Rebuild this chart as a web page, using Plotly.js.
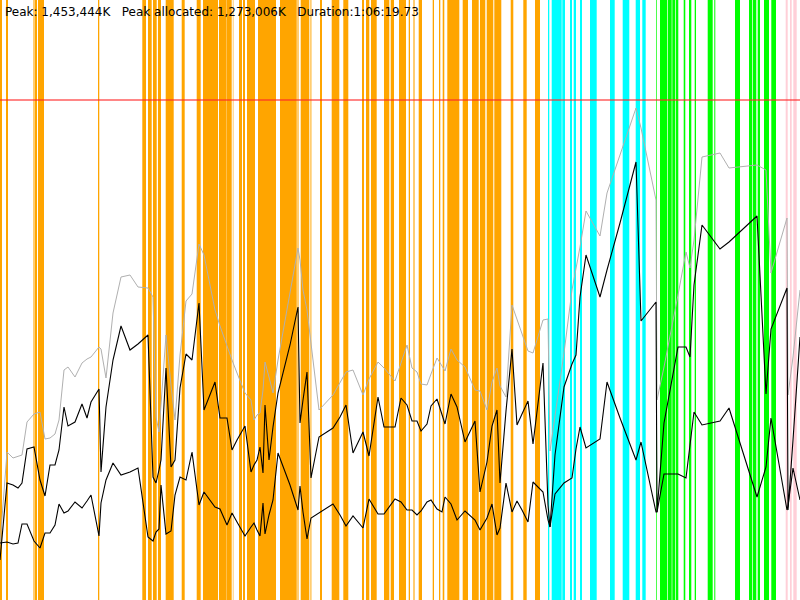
<!DOCTYPE html>
<html>
<head>
<meta charset="utf-8">
<script src="https://cdn.plot.ly/plotly-3.0.1.min.js"></script>
<style>html,body{margin:0;padding:0;background:#fff;}#chart{width:800px;height:600px;}</style>
</head>
<body>
<div id="chart"></div>
<script>
// ---- data ----
const headerText = "Peak: 1,453,444K\u00a0\u00a0\u00a0Peak allocated: 1,273,006K\u00a0\u00a0\u00a0Duration:1:06:19.73";
const limitLevel = 500;
const timeX = [0,7,13,18,22,27,34,40,45,50,55,59,64,68,75,82,87,91,99,101,106,113,121,130,138,148,153,156,159,161,166,171,175,180,186,192,199,204,215,220,227,232,237,245,251,254,257,260,263,265,269,273,278,290,298,300,303,307,311,319,333,340,346,353,363,369,378,384,395,401,407,412,417,421,427,431,437,442,445,451,457,465,475,480,487,492,497,500,506,512,517,522,528,533,541,543,548,550,555,564,572,576,580,586,600,607,620,636,641,656,657,664,678,686,690,694,702,720,729,757,766,771,787,788,793,800];
const peakSeries = [55,148,142,144,145,178,186,188,161,162,166,180,230,233,223,237,241,243,253,251,222,287,323,325,313,312,303,183,168,195,265,215,180,245,299,306,356,345,290,274,253,240,227,207,200,180,185,187,210,238,223,207,240,305,352,340,310,290,255,190,205,217,228,230,205,221,238,232,219,237,255,232,228,216,215,226,242,234,229,251,240,233,210,209,190,218,232,214,203,295,280,267,249,247,272,280,281,149,184,247,310,330,353,389,364,407,445,492,472,400,200,233,305,348,332,360,443,447,432,435,430,327,382,205,243,310];
const usedSeries = [40,117,115,112,117,151,153,120,104,135,135,150,193,174,178,196,182,198,211,128,193,240,274,250,256,265,123,117,130,140,232,133,140,212,246,240,297,190,218,182,182,150,160,174,128,135,140,153,127,195,140,173,207,255,293,177,200,228,122,163,172,183,195,147,168,144,203,173,173,202,195,179,179,169,176,194,201,185,176,206,193,158,179,108,138,174,190,117,189,251,175,186,199,156,220,237,95,73,145,213,236,245,303,345,303,330,377,438,279,298,88,177,253,253,243,315,375,351,358,384,206,271,312,90,160,263];
const liveSeries = [57,58,56,57,76,76,59,52,67,67,75,96,87,89,98,92,99,105,64,97,120,137,125,128,132,63,59,68,71,115,66,69,105,123,120,148,95,108,93,91,75,87,78,64,73,77,70,64,97,66,85,100,147,115,90,114,88,61,82,87,96,85,74,84,72,101,86,86,101,98,90,90,85,89,98,100,91,88,103,96,80,89,80,70,82,96,65,72,117,88,99,90,78,118,110,108,80,73,106,117,122,151,173,152,161,218,182,140,158,88,88,126,126,122,155,188,175,179,192,103,133,182,90,94,132,100];

const orangeSpans = [[0,2],[6,8],[35,37],[38,44],[98,99.3],[142.3,146],[148,151.7],[153,156.7],[158,161],[165.7,173.7],[181.7,184.7],[196.7,200.7],[203,218],[219,226.7],[227,231.7],[239,242],[243,245],[247,255],[258,276],[280,296.7],[300.7,309.3],[320,322],[331.7,339.3],[343.3,348.3],[362,364],[366,369.3],[371,376.7],[384,389.3],[390.7,394],[399,406],[408.7,410],[418.7,422],[432.7,434],[439,440.3],[442.7,444.3],[447.3,459.3],[462.7,468],[472,478.7],[480,485.3],[486.7,493.3],[494.3,501.3],[510.7,513.3],[523.3,526.7],[535,540]];
const paleOrangeSpans = [[33,35],[232.7,233.7],[296.7,299],[310,311.7],[413,415]];
const cyanSpans = [[548,549.3],[551.7,561.7],[562.3,565],[570,572],[573.7,576],[580,582],[590,596.7],[610,614.7],[622.7,629.3],[635.7,640],[642.3,645.7]];
const greenSpans = [[656,656.7],[660,667],[667.7,671.7],[672.3,675.3],[676,678.3],[683.7,685.3],[689,691.3],[694.7,696],[707.7,712.7],[714.3,715.3],[735,740],[749,752],[752.7,756.3],[757.7,760],[764,769],[771.3,776]];
const pinkSpans = [[785.7,787.7],[790,791.7],[793.3,796.7]];

// ---- chart ----
const Y_TOP = 600, X_END = 800;
function spanTrace(spans, color, opacity) {
  return {
    type: 'bar',
    x: spans.map(s => (s[0] + s[1]) / 2),
    width: spans.map(s => s[1] - s[0]),
    y: spans.map(() => Y_TOP),
    base: 0,
    marker: {color: color, line: {width: 0}},
    opacity: opacity,
    hoverinfo: 'skip',
    showlegend: false
  };
}
const traces = [
  spanTrace(orangeSpans, '#FFA500', 1),
  spanTrace(paleOrangeSpans, '#FFA500', 0.55),
  spanTrace(cyanSpans, '#00FFFF', 1),
  spanTrace(greenSpans, '#00FF00', 1),
  spanTrace(pinkSpans, '#FFC0CB', 0.75),
  {type: 'scatter', mode: 'lines', x: [0, X_END], y: [limitLevel, limitLevel],
   line: {color: 'rgba(255,40,40,0.75)', width: 1.3}, hoverinfo: 'skip', showlegend: false},
  {type: 'scatter', mode: 'lines', x: timeX, y: peakSeries,
   line: {color: '#B0B0B0', width: 1}, showlegend: false},
  {type: 'scatter', mode: 'lines', x: timeX, y: usedSeries,
   line: {color: '#000000', width: 1.1}, showlegend: false},
  {type: 'scatter', mode: 'lines', x: timeX, y: liveSeries,
   line: {color: '#000000', width: 1.1}, showlegend: false}
];
const layout = {
  width: 800, height: 600,
  margin: {l: 0, r: 0, t: 0, b: 0, pad: 0},
  paper_bgcolor: '#ffffff', plot_bgcolor: '#ffffff',
  barmode: 'overlay',
  showlegend: false,
  xaxis: {range: [0, X_END], visible: false, fixedrange: true},
  yaxis: {range: [0, Y_TOP], visible: false, fixedrange: true},
  annotations: [{
    text: headerText, xref: 'paper', yref: 'paper', x: 0, y: 1,
    xanchor: 'left', yanchor: 'top', xshift: 3, yshift: -3,
    showarrow: false, align: 'left',
    font: {family: 'DejaVu Sans, sans-serif', size: 12, color: '#000'}
  }]
};
Plotly.newPlot('chart', traces, layout, {displayModeBar: false, staticPlot: true});
</script>
</body>
</html>
